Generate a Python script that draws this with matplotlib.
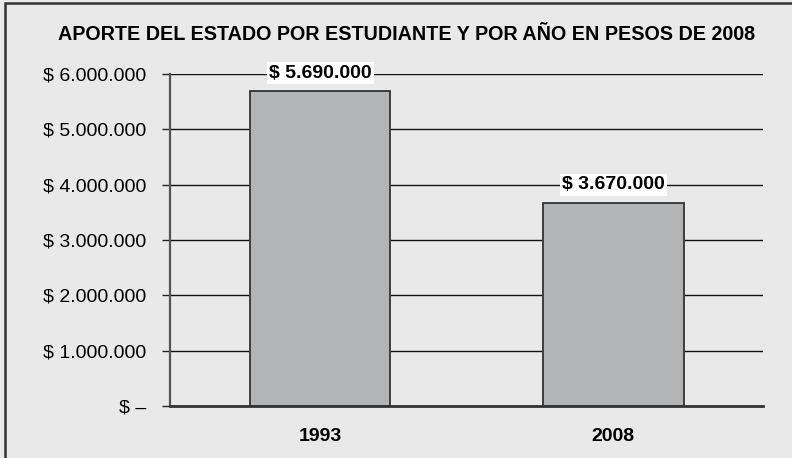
import matplotlib.pyplot as plt
from matplotlib.patches import Rectangle

plt.rcParams['font.family'] = ['Liberation Sans', 'DejaVu Sans']

# data
years = ['1993', '2008']
aporte = [5690000, 3670000]
value_labels = ['$ 5.690.000', '$ 3.670.000']
yticks = [0, 1000000, 2000000, 3000000, 4000000, 5000000, 6000000]
ytick_labels = ['$ \u2013', '$ 1.000.000', '$ 2.000.000', '$ 3.000.000',
                '$ 4.000.000', '$ 5.000.000', '$ 6.000.000']

bg = '#e9e9e9'
fig = plt.figure(figsize=(7.92, 4.58), dpi=100, facecolor=bg)
ax = fig.add_axes([170 / 792, 1 - 406 / 458, (763 - 170) / 792, (406 - 74) / 458])
ax.set_facecolor(bg)

# outer frame (runs off the right/bottom edges like the original)
fig.patches.append(Rectangle((5 / 792, -0.05), 1.1, 1 - 3 / 458 + 0.05,
                             transform=fig.transFigure, fill=False,
                             edgecolor='#333333', linewidth=1.8))

x = list(range(len(years)))
ax.bar(x, aporte, width=0.478, color='#b3b4b6', edgecolor='#333333',
       linewidth=1.3, zorder=3)

ax.set_xlim(-0.512, 1.51)
ax.set_ylim(0, 6000000)
ax.set_yticks(yticks)
ax.set_yticklabels(ytick_labels, fontsize=14)
ax.set_xticks(x)
ax.set_xticklabels(years, fontsize=14, fontweight='bold')
ax.tick_params(axis='x', length=0, pad=16)
ax.tick_params(axis='y', length=6, width=1, color='#222222', pad=11)
ax.grid(axis='y', color='#111111', linewidth=1, zorder=1)

for s in ['top', 'right']:
    ax.spines[s].set_visible(False)
ax.spines['left'].set_color('#555555')
ax.spines['left'].set_linewidth(1.6)
ax.spines['bottom'].set_color('#333333')
ax.spines['bottom'].set_linewidth(2)
ax.spines['bottom'].set_zorder(4)

for xi, v, lab in zip(x, aporte, value_labels):
    ax.annotate(lab, (xi, v), xytext=(0, 13), textcoords='offset points',
                ha='center', va='center', fontsize=14, fontweight='bold',
                bbox=dict(boxstyle='square,pad=0.12', fc='white', ec='none'),
                zorder=5)

fig.text(407 / 792, 1 - 34 / 458,
         'APORTE DEL ESTADO POR ESTUDIANTE Y POR AÑO EN PESOS DE 2008',
         ha='center', va='center', fontsize=14.2, fontweight='bold')

fig.savefig('out.png', dpi=100, facecolor=bg)
